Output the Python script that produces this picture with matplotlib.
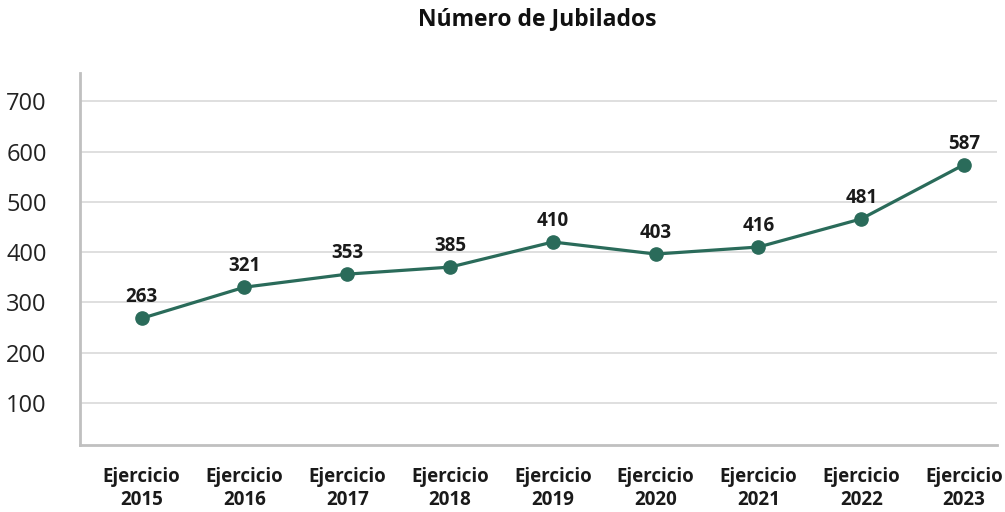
import matplotlib.pyplot as plt

plt.rcParams['font.family'] = ['Open Sans', 'DejaVu Sans']

# datos
ejercicios = ['Ejercicio\n2015', 'Ejercicio\n2016', 'Ejercicio\n2017', 'Ejercicio\n2018',
              'Ejercicio\n2019', 'Ejercicio\n2020', 'Ejercicio\n2021', 'Ejercicio\n2022',
              'Ejercicio\n2023']
# posicion de los puntos tal como aparecen en el grafico
valores = [268, 330, 356, 370, 420, 396, 410, 466, 574]
# etiquetas de datos
etiquetas = ['263', '321', '353', '385', '410', '403', '416', '481', '587']
ticks_y = [100, 200, 300, 400, 500, 600, 700]

color = '#2a6b5a'

fig = plt.figure(figsize=(10.05, 5.12), dpi=100)
ax = fig.add_axes([0.0796, 0.131, 0.9124, 0.726])

x = list(range(len(valores)))
ax.plot(x, valores, color=color, linewidth=2.3, marker='o', markersize=9.5, zorder=3)

for xi, v, lab in zip(x, valores, etiquetas):
    ax.annotate(lab, (xi, v), xytext=(0, 8), textcoords='offset points',
                ha='center', va='bottom', fontsize=13.5, fontweight='bold', color='#1a1a1a')

ax.set_xlim(-0.6, 8.32)
ax.set_ylim(16, 756)
ax.set_yticks(ticks_y)
ax.set_yticklabels([str(t) for t in ticks_y], fontsize=17, color='#222222')
ax.set_xticks(x)
ax.set_xticklabels(ejercicios, fontsize=13.5, fontweight='bold', color='#1a1a1a', linespacing=1.22)
ax.tick_params(axis='y', length=0, pad=24)
ax.tick_params(axis='x', length=0, pad=16)

ax.grid(axis='y', color='#dcdcdc', linewidth=1.3)
ax.set_axisbelow(True)
for s in ['top', 'right']:
    ax.spines[s].set_visible(False)
for s in ['left', 'bottom']:
    ax.spines[s].set_color('#c0c0c0')
    ax.spines[s].set_linewidth(2)

fig.text(0.535, 0.962, 'Número de Jubilados', ha='center', va='center',
         fontsize=16.5, fontweight='bold', color='#111111')

plt.savefig('out.png', dpi=100)
